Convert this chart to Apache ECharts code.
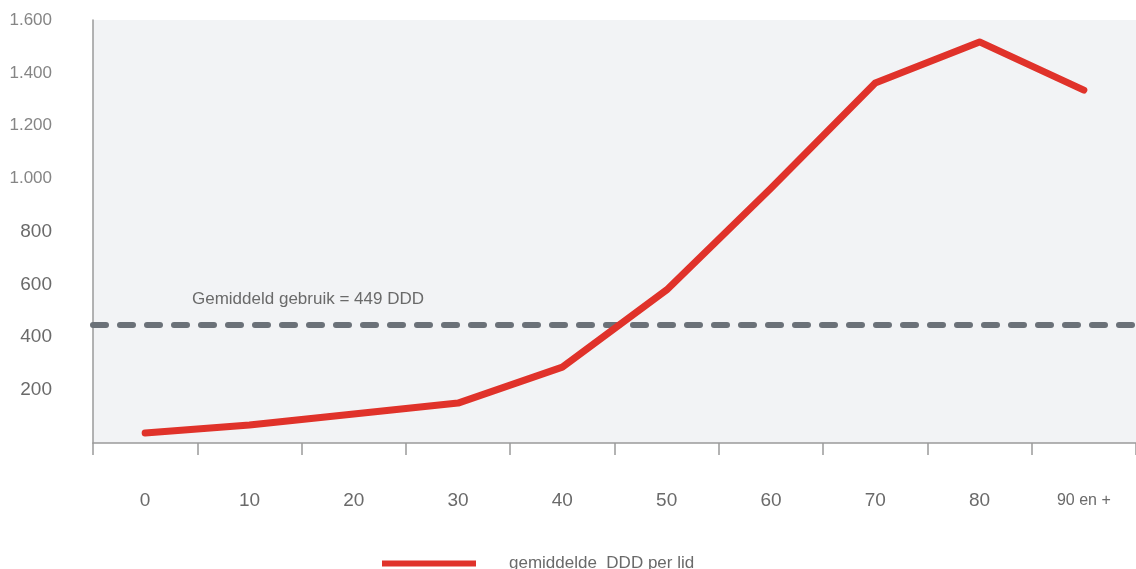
<!DOCTYPE html>
<html>
<head>
<meta charset="utf-8">
<script src="https://cdn.jsdelivr.net/npm/echarts@6/dist/echarts.min.js"></script>
<style>
  html, body { margin: 0; padding: 0; background: #ffffff; }
  #chart { width: 1136px; height: 569px; }
</style>
</head>
<body>
<div id="chart"></div>
<script>
// Age groups (years) and average DDD per member
const ageGroups = ['0', '10', '20', '30', '40', '50', '60', '70', '80', '90 en +'];
const dddPerMember = [38, 68, 110, 151, 287, 579, 964, 1362, 1517, 1335];
const averageUse = 449;
const averageLabel = 'Gemiddeld gebruik = 449 DDD';
const seriesName = 'gemiddelde  DDD per lid';
const yTicks = [0, 200, 400, 600, 800, 1000, 1200, 1400, 1600];

const FONT = '"Liberation Sans", Arial, sans-serif';
const TEXT_GREY = '#6a6a6a';
const TEXT_LIGHT = '#858585';

// Dutch thousands separator: 1600 -> "1.600"
function fmtNL(v) {
  return String(v).replace(/\B(?=(\d{3})+(?!\d))/g, '.');
}

const chart = echarts.init(document.getElementById('chart'), null, { renderer: 'canvas' });

chart.setOption({
  animation: false,
  backgroundColor: '#ffffff',
  textStyle: { fontFamily: FONT },
  grid: {
    left: 93, right: 0, top: 20, bottom: 126,
    show: true, backgroundColor: '#f2f3f5', borderWidth: 0
  },
  legend: {
    left: 377, top: 550,
    icon: 'rect', itemWidth: 94, itemHeight: 6,
    textStyle: { color: TEXT_GREY, fontSize: 17, fontFamily: FONT, padding: [0, 0, 0, 28] },
    data: [{ name: seriesName, itemStyle: { color: '#e0322a' } }]
  },
  xAxis: {
    type: 'category',
    data: ageGroups,
    boundaryGap: true,
    axisLine: { lineStyle: { color: '#9a9a9a', width: 1.5 } },
    axisTick: { show: true, interval: 0, length: 12, lineStyle: { color: '#9a9a9a', width: 1.5 } },
    axisLabel: {
      interval: 0,
      margin: 47,
      color: TEXT_GREY,
      fontFamily: FONT,
      formatter: function (v) {
        return v.length > 3 ? '{s|' + v + '}' : '{d|' + v + '}';
      },
      rich: {
        d: { fontSize: 19, lineHeight: 22, color: TEXT_GREY, fontFamily: FONT },
        s: { fontSize: 16, lineHeight: 22, color: TEXT_GREY, fontFamily: FONT }
      }
    }
  },
  yAxis: {
    type: 'value',
    min: yTicks[0],
    max: yTicks[yTicks.length - 1],
    interval: 200,
    splitLine: { show: false },
    axisLine: { show: true, lineStyle: { color: '#9a9a9a', width: 1.5 } },
    axisTick: { show: false },
    axisLabel: {
      showMinLabel: false,
      margin: 41,
      color: TEXT_GREY,
      fontFamily: FONT,
      formatter: function (v) {
        return v >= 1000 ? '{k|' + fmtNL(v) + '}' : '{n|' + fmtNL(v) + '}';
      },
      rich: {
        k: { fontSize: 17, color: TEXT_LIGHT, fontFamily: FONT },
        n: { fontSize: 19, color: TEXT_GREY, fontFamily: FONT }
      }
    }
  },
  series: [{
    name: seriesName,
    type: 'line',
    data: dddPerMember,
    symbol: 'none',
    z: 3,
    lineStyle: { color: '#e0322a', width: 7, cap: 'round', join: 'round' },
    itemStyle: { color: '#e0322a' },
    markLine: {
      silent: true,
      symbol: ['none', 'none'],
      z: 2,
      lineStyle: { color: '#6b7178', width: 6, type: [13, 14], cap: 'round' },
      label: {
        show: true,
        position: 'insideStartTop',
        distance: [99, 16],
        formatter: averageLabel,
        color: TEXT_GREY,
        fontSize: 17,
        fontFamily: FONT
      },
      data: [{ yAxis: averageUse }]
    }
  }]
});
</script>
</body>
</html>
